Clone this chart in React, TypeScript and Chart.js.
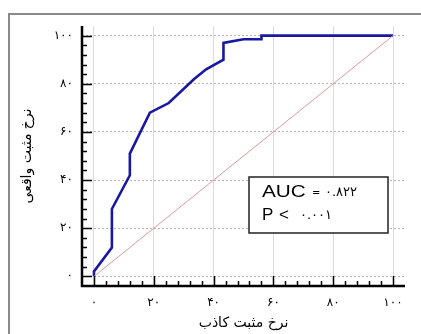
import React, { useEffect, useRef } from "react";
import { Chart, registerables } from "chart.js";

Chart.register(...registerables);

// ROC curve (false positive rate %, true positive rate %)
const rocFpr = [0, 0, 6, 6, 12, 12, 18.7, 25, 33.5, 37.5, 43.3, 43.3, 50, 56, 56, 100];
const rocTpr = [0, 2, 12, 28, 42, 51, 68, 72, 82, 86, 90, 97, 98.5, 98.5, 100, 100];
// Reference diagonal
const diagX = [0, 100];
const diagY = [0, 100];
// Tick values and labels
const tickValues = [0, 20, 40, 60, 80, 100];
const tickLabels = ["۰", "۲۰", "۴۰", "۶۰", "۸۰", "۱۰۰"];
const xTitle = "نرخ مثبت کاذب";
const yTitle = "نرخ مثبت واقعی";
const aucValue = "۰.۸۲۲";
const pValue = "۰.۰۰۱";

const isMajor = (v: number) => Math.abs(v % 20) < 1e-6 && tickValues.includes(Math.round(v));
const labelFor = (v: number) => {
  const i = tickValues.indexOf(Math.round(v));
  return i >= 0 && Math.abs(v - Math.round(v)) < 1e-6 ? tickLabels[i] : "";
};

const framePlugin = {
  id: "frame",
  beforeDraw(chart: any) {
    const { ctx, width, height } = chart;
    ctx.save();
    ctx.fillStyle = "#fff";
    ctx.fillRect(0, 0, width, height);
    ctx.strokeStyle = "#8a8a8a";
    ctx.lineWidth = 2;
    ctx.strokeRect(9, 14, width + 20, height + 20);
    ctx.restore();
  },
  afterDatasetsDraw(chart: any) {
    const { ctx, chartArea: a, scales } = chart;
    const xs = scales.x;
    const ys = scales.y;
    ctx.save();
    ctx.strokeStyle = "#000";
    ctx.lineWidth = 1.5;
    xs.ticks.forEach((t: any) => {
      if (t.value < 0 || t.value > 100) return;
      const len = isMajor(t.value) ? 10 : 5;
      const px = Math.round(xs.getPixelForValue(t.value)) + 0.5;
      ctx.beginPath();
      ctx.moveTo(px, a.bottom);
      ctx.lineTo(px, a.bottom - len);
      ctx.stroke();
    });
    ys.ticks.forEach((t: any) => {
      if (t.value < 0 || t.value > 100) return;
      const len = isMajor(t.value) ? 10 : 5;
      const py = Math.round(ys.getPixelForValue(t.value)) + 0.5;
      ctx.beginPath();
      ctx.moveTo(a.left, py);
      ctx.lineTo(a.left + len, py);
      ctx.stroke();
    });
    ctx.lineWidth = 2.5;
    ctx.beginPath();
    ctx.moveTo(a.left, a.top);
    ctx.lineTo(a.left, a.bottom);
    ctx.lineTo(a.right, a.bottom);
    ctx.stroke();
    ctx.restore();
  },
  afterDraw(chart: any) {
    const { ctx } = chart;
    ctx.save();
    // stats box
    ctx.fillStyle = "#fff";
    ctx.fillRect(249, 177, 139, 56);
    ctx.strokeStyle = "#222";
    ctx.lineWidth = 1.5;
    ctx.strokeRect(249, 177, 139, 56);
    ctx.fillStyle = "#000";
    ctx.textBaseline = "alphabetic";
    ctx.textAlign = "left";
    ctx.font = '17px "Liberation Sans", Arial, sans-serif';
    ctx.save();
    ctx.translate(262, 197);
    ctx.scale(1.22, 1);
    ctx.fillText("AUC", 0, 0);
    ctx.restore();
    ctx.fillText("P", 262, 220);
    ctx.fillText("<", 279, 220);
    ctx.font = '10px "DejaVu Sans", sans-serif';
    ctx.fillText("=", 312, 196);
    ctx.font = '13px "DejaVu Sans", sans-serif';
    ctx.fillText(aucValue, 325, 196);
    ctx.fillText(pValue, 300, 219);
    ctx.restore();
  },
};

export default function App() {
  const ref = useRef<HTMLCanvasElement | null>(null);
  useEffect(() => {
    if (!ref.current) return;
    const tickFont = { family: '"DejaVu Sans", sans-serif', size: 12 };
    const titleFont = { family: '"DejaVu Sans", sans-serif', size: 14 };
    const chart = new Chart(ref.current, {
      type: "scatter",
      data: {
        datasets: [
          {
            label: "diag",
            data: diagX.map((x, i) => ({ x, y: diagY[i] })),
            showLine: true,
            borderColor: "#dc9a9a",
            borderWidth: 1,
            pointRadius: 0,
          },
          {
            label: "ROC",
            data: rocFpr.map((x, i) => ({ x, y: rocTpr[i] })),
            showLine: true,
            borderColor: "#1818a0",
            borderWidth: 2.6,
            pointRadius: 0,
            tension: 0,
          },
        ],
      },
      options: {
        animation: false,
        responsive: false,
        layout: { padding: { left: 0, top: 26, right: 16, bottom: 0 } },
        plugins: { legend: { display: false }, tooltip: { enabled: false } },
        scales: {
          x: {
            type: "linear",
            min: -4,
            max: 104,
            afterFit: (s: any) => {
              s.height = 48;
            },
            ticks: {
              stepSize: 4,
              autoSkip: false,
              maxRotation: 0,
              padding: 10,
              color: "#000",
              font: tickFont,
              callback: (v: any) => labelFor(Number(v)),
            },
            grid: {
              drawTicks: false,
              color: (c: any) => (c.tick && isMajor(c.tick.value) ? "#dadada" : "rgba(0,0,0,0)"),
              lineWidth: 1,
            },
            border: { display: false },
            title: { display: true, text: xTitle, color: "#000", font: titleFont, padding: { top: 0, bottom: 2 } },
          },
          y: {
            type: "linear",
            min: -4,
            max: 104,
            afterFit: (s: any) => {
              s.width = 82;
            },
            ticks: {
              stepSize: 4,
              autoSkip: false,
              padding: 9,
              color: "#000",
              font: tickFont,
              callback: (v: any) => labelFor(Number(v)),
            },
            grid: {
              drawTicks: false,
              color: (c: any) => (c.tick && isMajor(c.tick.value) ? "#b4b4b4" : "rgba(0,0,0,0)"),
              lineWidth: 1,
            },
            border: { display: false, dash: [2, 2] },
            title: { display: true, text: yTitle, color: "#000", font: titleFont, padding: { top: 19, bottom: 0 } },
          },
        },
      },
      plugins: [framePlugin],
    });
    return () => chart.destroy();
  }, []);
  return (
    <div style={{ position: "fixed", left: 0, top: 0, width: 421, height: 334, background: "#fff" }}>
      <canvas ref={ref} width={421} height={334} />
    </div>
  );
}
